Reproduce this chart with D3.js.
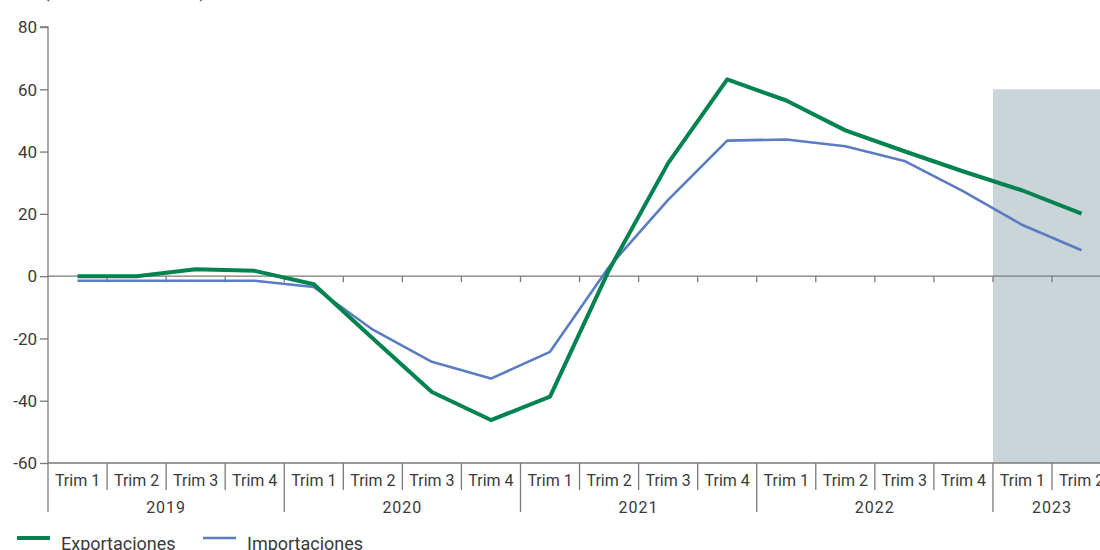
<!DOCTYPE html>
<html>
<head>
<meta charset="utf-8">
<script src="https://cdn.jsdelivr.net/npm/d3@7"></script>
<style>
  html, body { margin: 0; padding: 0; background: #fff; }
  svg { display: block; }
  text { font-family: Roboto, "Liberation Sans", sans-serif; fill: #3a3a3a; }
</style>
</head>
<body>
<svg id="chart" width="1100" height="550"></svg>
<script>
const years = ["2019", "2020", "2021", "2022", "2023"];
const quarterLabels = ["Trim 1", "Trim 2", "Trim 3", "Trim 4"];
const periods = [
  "2019-T1","2019-T2","2019-T3","2019-T4",
  "2020-T1","2020-T2","2020-T3","2020-T4",
  "2021-T1","2021-T2","2021-T3","2021-T4",
  "2022-T1","2022-T2","2022-T3","2022-T4",
  "2023-T1","2023-T2"
];
const exportaciones = [0, 0, 2.2, 1.7, -2.6, -20, -37.2, -46.2, -38.7, 2, 36.3, 63.2, 56.4, 46.8, 40.1, 33.6, 27.5, 20.1];
const importaciones = [-1.5, -1.5, -1.5, -1.5, -3.5, -17.2, -27.5, -32.9, -24.3, 3, 24.5, 43.5, 43.9, 41.7, 37.0, 27.2, 16.4, 8.3];
const yTicks = [80, 60, 40, 20, 0, -20, -40, -60];
const shadedPeriods = ["2023-T1", "2023-T2"];
const shadeRange = [60, -60];
const seriesNames = ["Exportaciones", "Importaciones"];
const seriesColors = ["#00834f", "#5b7cc2"];

const svg = d3.select("#chart");
const left = 48, bandW = 59.06;
const x = d3.scaleBand().domain(periods).range([left, left + bandW * periods.length]).paddingInner(0).paddingOuter(0);
const y = d3.scaleLinear().domain([-60, 80]).range([463, 27]);
const axisColor = "#7a7a7a";

// Shaded forecast area
svg.append("rect")
  .attr("x", x(shadedPeriods[0]))
  .attr("y", y(shadeRange[0]))
  .attr("width", x(shadedPeriods[shadedPeriods.length - 1]) + x.bandwidth() - x(shadedPeriods[0]))
  .attr("height", y(shadeRange[1]) - y(shadeRange[0]))
  .attr("fill", "#c9d5d9");

// Y axis
const yAxis = d3.axisLeft(y).tickValues(yTicks).tickSize(8).tickPadding(3).tickFormat(d => String(d));
const gy = svg.append("g").attr("transform", `translate(${left},0)`).call(yAxis);
gy.select(".domain").attr("stroke", axisColor).attr("stroke-width", 1.3).attr("d", `M-8,${y(80)}H0V${y(-60)}`);
gy.selectAll(".tick line").attr("stroke", axisColor).attr("stroke-width", 1.3);
gy.selectAll(".tick text").style("font-size", "17px").attr("fill", "#3a3a3a").attr("dy", "0.34em");

// Zero line with ticks at band boundaries
const boundaries = periods.slice(1).map(p => x(p));
const gz = svg.append("g").attr("transform", `translate(0,${y(0)})`);
gz.append("line").attr("x1", left).attr("x2", 1100).attr("y1", 0).attr("y2", 0).attr("stroke", axisColor).attr("stroke-width", 1.3);
gz.selectAll("line.bt").data(boundaries).join("line").attr("class", "bt")
  .attr("x1", d => d).attr("x2", d => d).attr("y1", 0).attr("y2", 6)
  .attr("stroke", axisColor).attr("stroke-width", 1.3);

// Bottom axis
const gb = svg.append("g").attr("transform", `translate(0,${y(-60)})`);
gb.append("line").attr("x1", left).attr("x2", 1100).attr("y1", 0).attr("y2", 0).attr("stroke", axisColor).attr("stroke-width", 1.3);
gb.selectAll("line.q").data(boundaries).join("line").attr("class", "q")
  .attr("x1", d => d).attr("x2", d => d).attr("y1", 0)
  .attr("y2", (d, i) => ((i + 1) % 4 === 0) ? 49 : 27)
  .attr("stroke", axisColor).attr("stroke-width", 1.3);
gb.append("line").attr("x1", left).attr("x2", left).attr("y1", 0).attr("y2", 49).attr("stroke", axisColor).attr("stroke-width", 1.3);
gb.selectAll("text.ql").data(periods).join("text").attr("class", "ql")
  .attr("x", d => x(d) + x.bandwidth() / 2)
  .attr("y", 23)
  .attr("text-anchor", "middle")
  .style("font-size", "16px")
  .text((d, i) => quarterLabels[i % 4]);
gb.selectAll("text.yl").data(years).join("text").attr("class", "yl")
  .attr("x", (d, i) => {
    const ps = periods.filter(p => p.startsWith(d));
    const x0 = x(ps[0]);
    const x1 = i === years.length - 1 ? 1100 + 11 : x(ps[ps.length - 1]) + x.bandwidth();
    return (x0 + x1) / 2;
  })
  .attr("y", 50)
  .attr("text-anchor", "middle")
  .style("font-size", "16px")
  .style("letter-spacing", "1px")
  .text(d => d);

// Lines
const line = d3.line().x((d, i) => x(periods[i]) + x.bandwidth() / 2).y(d => y(d));
svg.append("path").datum(importaciones).attr("d", line).attr("fill", "none")
  .attr("stroke", seriesColors[1]).attr("stroke-width", 2.6).attr("stroke-linejoin", "round");
svg.append("path").datum(exportaciones).attr("d", line).attr("fill", "none")
  .attr("stroke", seriesColors[0]).attr("stroke-width", 4).attr("stroke-linejoin", "round");

// Subtitle, cut off at top
svg.append("text").attr("x", 44).attr("y", -2.5).style("font-size", "16px").text("(Variación anual, en %)");

// Legend
const legendX = [17, 203];
const lg = svg.append("g");
seriesNames.forEach((name, i) => {
  lg.append("line").attr("x1", legendX[i]).attr("x2", legendX[i] + 33).attr("y1", 538).attr("y2", 538)
    .attr("stroke", seriesColors[i]).attr("stroke-width", i === 0 ? 4 : 2.6);
  lg.append("text").attr("x", legendX[i] + 44).attr("y", 550).style("font-size", "18px").text(name);
});
</script>
</body>
</html>
